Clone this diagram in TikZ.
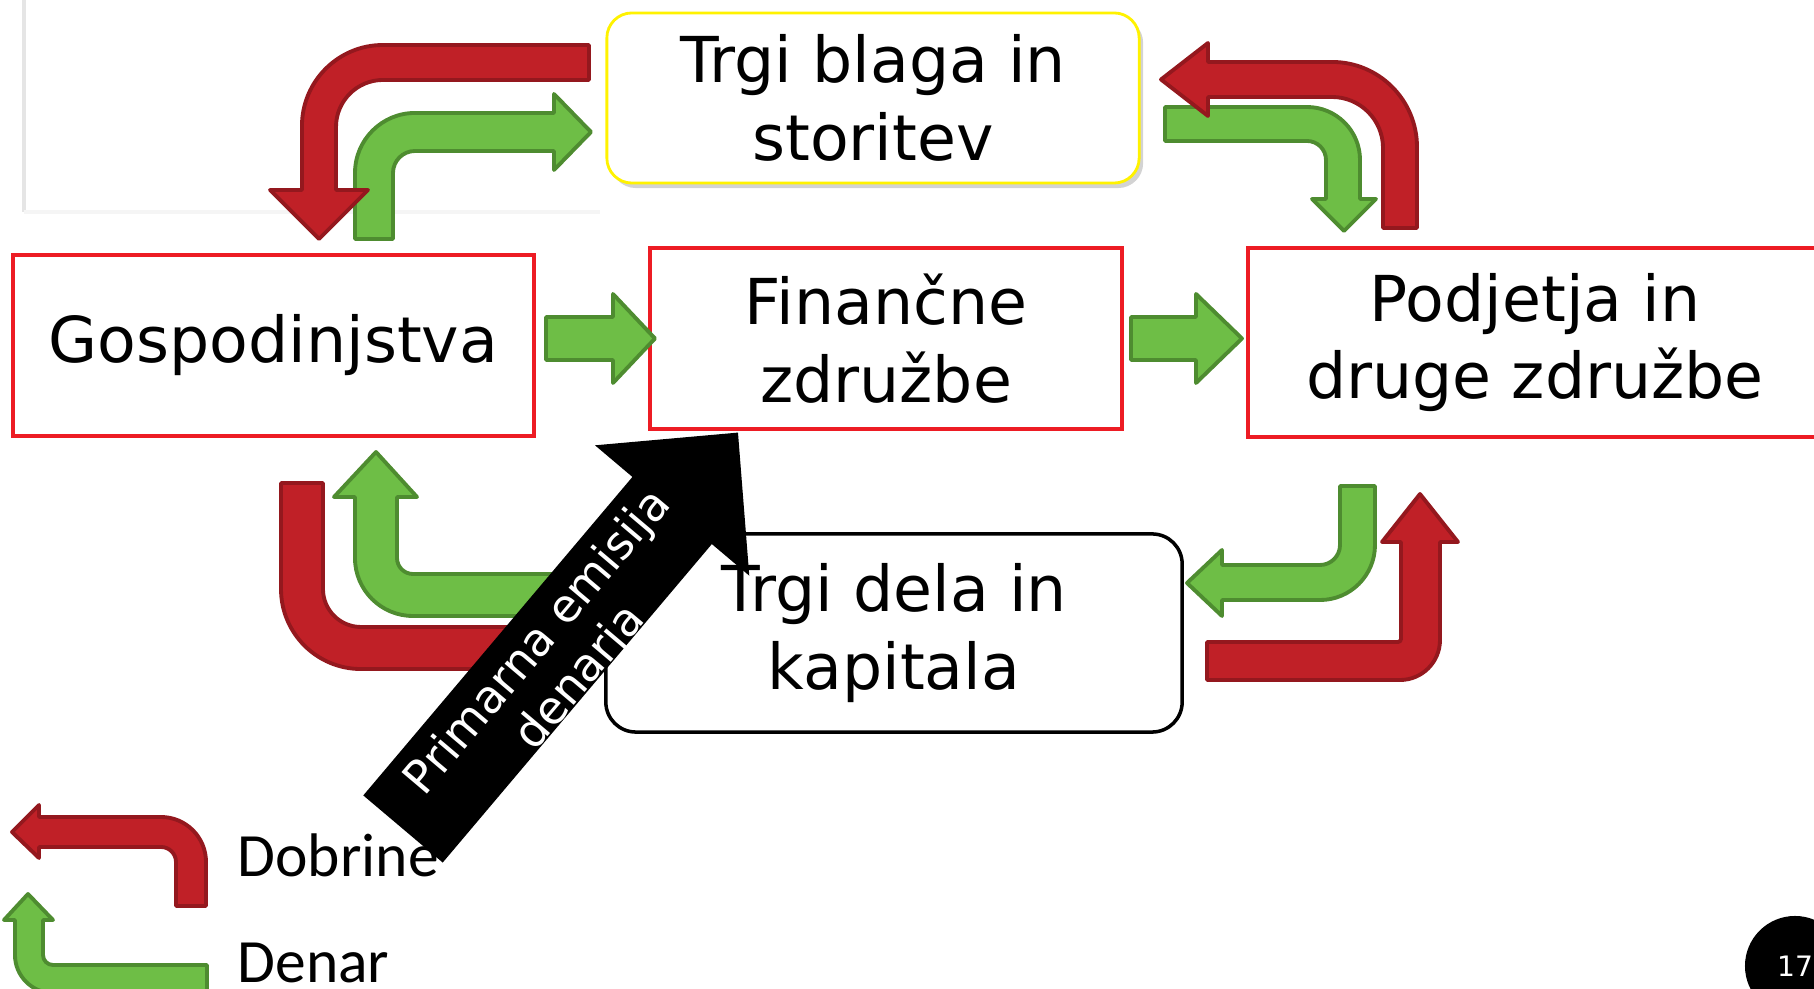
\documentclass[tikz,border=0pt]{standalone}
\usepackage{fontspec}
\setmainfont{DejaVu Sans}
\newfontfamily\legendfont{Carlito}
\usetikzlibrary{positioning, shadows}
\definecolor{goodsred}{RGB}{192,32,39}
\definecolor{goodsline}{RGB}{148,24,30}
\definecolor{moneygreen}{RGB}{110,190,70}
\definecolor{moneyline}{RGB}{78,140,48}
\definecolor{boxred}{RGB}{237,28,36}
\tikzset{
  sector/.style={draw=boxred, line width=1.2pt, fill=white, inner sep=0pt, align=center,
    font=\fontsize{18}{22}\selectfont},
  market/.style={fill=white, inner sep=0pt, align=center, font=\fontsize{18}{22}\selectfont},
  goods/.style={fill=goodsred, draw=goodsline, line width=1.1pt, line join=round},
  money/.style={fill=moneygreen, draw=moneyline, line width=1.1pt, line join=round},
  legendtext/.style={anchor=base west, inner sep=0pt, font=\legendfont\fontsize{17.5}{20}\selectfont}
}

\begin{document}
\begin{tikzpicture}[x=0.01cm, y=-0.01cm]
                    \useasboundingbox (0,0) rectangle (1814,989);
                    \clip (0,0) rectangle (1814,989);
                    \draw[black!10, line width=1pt] (24,0) -- (24,212);
                    \draw[black!4, line width=1pt] (24,212) -- (600,212);
                    \node[sector, minimum width=5.21cm, minimum height=1.81cm] (gosp) at (273.5,345.5) {Gospodinjstva};
                    \node[sector, minimum width=4.72cm, minimum height=1.81cm] (fin) at (886,338.5) {Finančne\\združbe};
                    \node[sector, minimum width=5.74cm, minimum height=1.89cm] (podj) at (1535,342.5) {Podjetja in\\druge združbe};
                    \node[market, draw=yellow, line width=0.8pt, rounded corners=0.25cm, minimum width=5.32cm, minimum height=1.7cm,
                      drop shadow={shadow xshift=0.04cm, shadow yshift=-0.05cm, opacity=0.35}] (blaga) at (873,98) {Trgi blaga in\\storitev};
                    \node[market, draw=black, line width=1pt, rounded corners=0.3cm, minimum width=5.76cm, minimum height=1.98cm] (dela) at (894,633) {Trgi dela in\\kapitala};
                    \draw[money] (355,239) -- (355,173) arc[start angle=180, end angle=90, radius=0.6cm] -- (554,113) -- (554,94) -- (591,132) -- (554,170) -- (554,151) -- (415,151) arc[start angle=90, end angle=180, radius=0.22cm] -- (393,239) -- cycle;
                    \draw[goods] (589,45) -- (383,45) arc[start angle=90, end angle=180, radius=0.81cm] -- (302,190) -- (270,190) -- (319,239) -- (368,190) -- (336,190) -- (336,127) arc[start angle=180, end angle=90, radius=0.47cm] -- (589,80) -- cycle;
                    \draw[money] (1165,107) -- (1307,107) arc[start angle=90, end angle=0, radius=0.53cm] -- (1360,199) -- (1376,199) -- (1344,231) -- (1312,199) -- (1326,199) -- (1326,160) arc[start angle=0, end angle=90, radius=0.19cm] -- (1165,141) -- cycle;
                    \draw[goods] (1417,228) -- (1417,147) arc[start angle=0, end angle=90, radius=0.85cm] -- (1208,62) -- (1208,43) -- (1161,79.5) -- (1208,116) -- (1208,97) -- (1332,97) arc[start angle=90, end angle=0, radius=0.51cm] -- (1383,228) -- cycle;
                    \draw[money] (546,317) -- (613,317) -- (613,294) -- (655,338.5) -- (613,383) -- (613,360) -- (546,360) -- cycle;
                    \draw[money] (1131,317) -- (1196,317) -- (1196,294) -- (1242,338.5) -- (1196,383) -- (1196,360) -- (1131,360) -- cycle;
                    \draw[money] (376,452) -- (417,497) -- (397,497) -- (397,558) arc[start angle=180, end angle=270, radius=0.16cm] -- (600,574) -- (600,616) -- (413,616) arc[start angle=270, end angle=180, radius=0.58cm] -- (355,497) -- (334,497) -- cycle;
                    \draw[goods] (281,483) -- (281,589) arc[start angle=180, end angle=270, radius=0.8cm] -- (560,669) -- (560,691) -- (600,648) -- (560,605) -- (560,627) -- (361,627) arc[start angle=270, end angle=180, radius=0.38cm] -- (323,483) -- cycle;
                    \draw[money] (1340,486) -- (1375,486) -- (1375,545) arc[start angle=0, end angle=-90, radius=0.55cm] -- (1222,600) -- (1222,616) -- (1187,583) -- (1222,550) -- (1222,565) -- (1320,565) arc[start angle=-90, end angle=0, radius=0.2cm] -- cycle;
                    \draw[goods] (1207,642) -- (1398,642) arc[start angle=-90, end angle=0, radius=0.03cm] -- (1401,542) -- (1382,542) -- (1420,494) -- (1458,542) -- (1440,542) -- (1440,640) arc[start angle=0, end angle=-90, radius=0.4cm] -- (1207,680) -- cycle;
                    \draw[goods] (12,832) -- (39,805) -- (39,817) -- (161,817) arc[start angle=90, end angle=0, radius=0.45cm] -- (206,906) -- (176,906) -- (176,862) arc[start angle=0, end angle=90, radius=0.15cm] -- (39,847) -- (39,858) -- cycle;
                    \draw[money] (28,894) -- (53,920) -- (43,920) -- (43,955) arc[start angle=180, end angle=270, radius=0.1cm] -- (207,965) -- (207,993) -- (53,993) arc[start angle=270, end angle=180, radius=0.38cm] -- (15,920) -- (4,920) -- cycle;
                    \node[legendtext] (dobrine) at (237,877) {Dobrine};
                    \node[legendtext] (denar) at (237,983) {Denar};
                    \begin{scope}[shift={(403,829)}, rotate=49.8]
                      \fill (0,-52) -- (417,-52) -- (417,-101) -- (519,0) -- (417,101) -- (417,52) -- (0,52) -- cycle;
                      \node[text=white, align=center, rotate=49.8, inner sep=0pt, font=\fontsize{13}{15.6}\selectfont] (emisija) at (230,11) {Primarna emisija\\denarja};
                    \end{scope}
                    \node[circle, fill=black, minimum size=1cm, inner sep=0pt, text=white, font=\fontsize{8}{9}\selectfont] (stran) at (1795,966) {17};
                \end{tikzpicture}
\end{document}
